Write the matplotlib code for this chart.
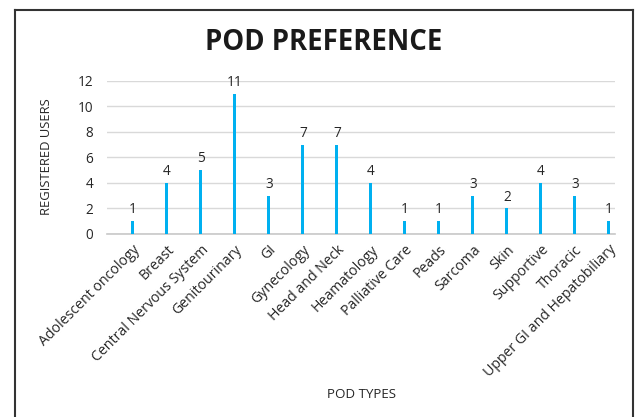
import matplotlib
matplotlib.use("Agg")
import matplotlib.pyplot as plt
from matplotlib.lines import Line2D
from matplotlib.transforms import ScaledTranslation

categories = ["Adolescent oncology", "Breast", "Central Nervous System", "Genitourinary",
              "GI", "Gynecology", "Head and Neck", "Heamatology", "Palliative Care",
              "Peads", "Sarcoma", "Skin", "Supportive", "Thoracic",
              "Upper GI and Hepatobiliary"]
values = [1, 4, 5, 11, 3, 7, 7, 4, 1, 1, 3, 2, 4, 3, 1]
yticks = [0, 2, 4, 6, 8, 10, 12]

plt.rcParams['font.family'] = ['Open Sans', 'DejaVu Sans']

W, H = 637, 417
fig = plt.figure(figsize=(W / 100, H / 100), dpi=100)
ax = fig.add_axes([107 / W, 1 - 234 / H, (615 - 107) / W, (234 - 81) / H])

x = list(range(len(categories)))
ax.bar(x, values, width=0.09, color="#00B0F0", zorder=3)
for xi, v in zip(x, values):
    ax.text(xi, v + 0.3, str(v), ha="center", va="bottom", fontsize=9.8,
            color="#262626", clip_on=False)

ax.set_xlim(-0.76, 14.18)
ax.set_ylim(0, 12)
ax.set_yticks(yticks)
ax.set_xticks(x)
ax.set_xticklabels(categories, rotation=45, ha="right", va="top",
                   rotation_mode="anchor", fontsize=10.2, color="#262626")
off = ScaledTranslation(-0.04, -0.01, fig.dpi_scale_trans)
for lab in ax.get_xticklabels():
    lab.set_transform(lab.get_transform() + off)
ax.tick_params(axis="both", length=0, labelcolor="#262626")
ax.tick_params(axis="y", labelsize=9.8, pad=10)
ax.tick_params(axis="x", pad=6)
ax.grid(axis="y", color="#d9d9d9", linewidth=1, zorder=0)
for s in ["top", "right", "left"]:
    ax.spines[s].set_visible(False)
ax.spines["bottom"].set_color("#c8c8c8")
ax.spines["bottom"].set_linewidth(1.2)

fig.text(324 / W, 1 - 43 / H, "POD PREFERENCE", ha="center", va="center",
         fontsize=19.8, fontweight="bold", color="#1a1a1a")
fig.text(46 / W, 1 - 157 / H, "REGISTERED USERS", rotation=90, ha="center",
         va="center", fontsize=9.4, color="#262626")
fig.text(361 / W, 1 - 395 / H, "POD TYPES", ha="center", va="center",
         fontsize=9.6, color="#262626")

lx, ty, rx = 14.5 / W, 1 - 10 / H, 632.5 / W
fig.add_artist(Line2D([lx, lx], [-0.01, ty], transform=fig.transFigure,
                      color="#333333", linewidth=1.5))
fig.add_artist(Line2D([lx, rx], [ty, ty], transform=fig.transFigure,
                      color="#333333", linewidth=1.5))
fig.add_artist(Line2D([rx, rx], [ty, -0.01], transform=fig.transFigure,
                      color="#333333", linewidth=1.5))

fig.savefig("out.png", dpi=100)
